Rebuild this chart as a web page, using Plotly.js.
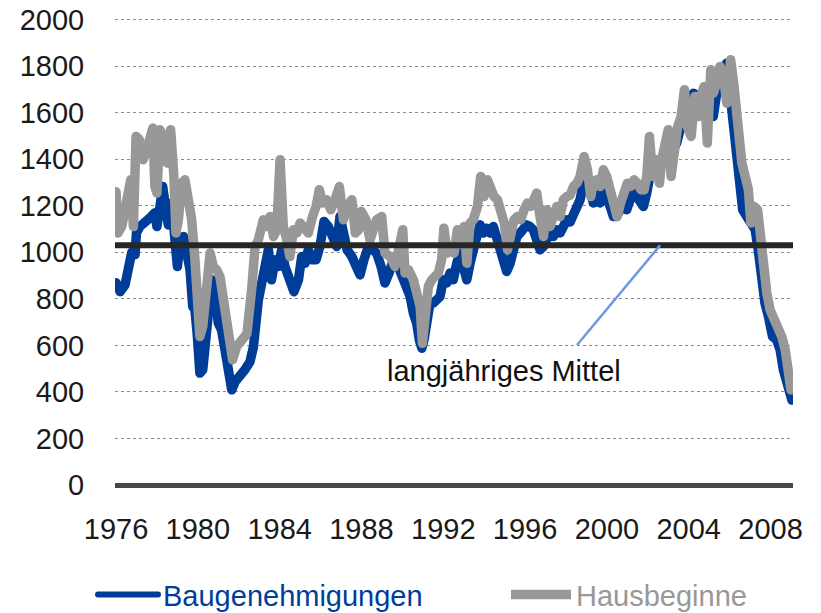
<!DOCTYPE html>
<html>
<head>
<meta charset="utf-8">
<script src="https://cdn.plot.ly/plotly-3.0.1.min.js"></script>
<style>html,body{margin:0;padding:0;background:#fff;}#chart{width:821px;height:613px;}
#chart .scatterlayer .js-line{stroke-linejoin:round !important;stroke-linecap:round !important;}
#chart .legend .js-line{stroke-width:6px !important;stroke-linecap:round !important;}</style>
</head>
<body>
<div id="chart"></div>
<script>
// Baugenehmigungen (dark blue)
const blueYears = [1976.0,1976.2,1976.44,1976.6,1976.77,1976.93,1977.0,1977.17,1977.42,1977.66,1977.9,1978.0,1978.15,1978.28,1978.44,1978.56,1978.72,1978.88,1979.0,1979.13,1979.3,1979.46,1979.62,1979.75,1979.86,1979.98,1980.1,1980.24,1980.4,1980.56,1980.68,1980.79,1980.89,1981.0,1981.16,1981.33,1981.49,1981.66,1981.82,1982.06,1982.3,1982.55,1982.72,1982.96,1983.12,1983.29,1983.45,1983.6,1983.78,1983.94,1984.1,1984.26,1984.47,1984.7,1984.92,1985.08,1985.24,1985.4,1985.57,1985.78,1985.97,1986.17,1986.38,1986.6,1986.79,1986.95,1987.12,1987.3,1987.53,1987.74,1987.93,1988.12,1988.34,1988.55,1988.74,1988.96,1989.15,1989.35,1989.56,1989.8,1990.05,1990.21,1990.38,1990.54,1990.7,1990.83,1990.95,1991.06,1991.19,1991.35,1991.51,1991.68,1991.84,1992.0,1992.17,1992.33,1992.49,1992.66,1992.82,1992.98,1993.15,1993.31,1993.47,1993.64,1993.8,1993.96,1994.12,1994.29,1994.45,1994.61,1994.78,1994.94,1995.1,1995.27,1995.43,1995.6,1995.76,1995.92,1996.08,1996.24,1996.4,1996.57,1996.73,1996.9,1997.06,1997.22,1997.38,1997.55,1997.71,1997.87,1998.04,1998.2,1998.37,1998.53,1998.69,1998.85,1999.0,1999.18,1999.34,1999.5,1999.67,1999.83,1999.99,2000.16,2000.32,2000.48,2000.64,2000.8,2000.97,2001.13,2001.3,2001.46,2001.62,2001.79,2001.95,2002.1,2002.27,2002.44,2002.6,2002.76,2002.93,2003.09,2003.25,2003.41,2003.58,2003.74,2003.9,2004.07,2004.23,2004.45,2004.72,2005.0,2005.2,2005.37,2005.62,2005.86,2006.03,2006.2,2006.35,2006.48,2006.64,2006.84,2007.08,2007.25,2007.4,2007.57,2007.73,2007.9,2008.1,2008.3,2008.47,2008.63,2008.8,2008.96,2009.05];
const blueValues = [869,831,860,912,1000,990,1084,1111,1126,1148,1170,1111,1197,1283,1183,1118,1212,982,939,1040,1068,997,925,767,753,638,481,495,624,810,882,810,782,696,667,581,509,409,444,466,495,530,595,796,853,925,1011,882,968,939,1011,939,882,831,882,982,953,1011,968,968,1025,1133,1111,1068,1025,1154,1083,1011,982,939,903,968,1025,1011,997,939,868,911,968,939,880,839,810,738,695,624,588,624,738,782,782,796,810,882,868,911,882,953,997,939,882,953,1025,1068,1118,1083,1104,1083,1111,1068,1011,953,918,953,1025,1068,1083,1097,1118,1111,1097,1054,1011,1025,1054,1083,1068,1097,1083,1111,1140,1130,1169,1197,1226,1297,1312,1269,1212,1269,1212,1269,1240,1197,1154,1154,1183,1197,1183,1240,1269,1240,1212,1197,1255,1326,1341,1355,1384,1398,1441,1455,1441,1470,1527,1584,1613,1641,1684,1670,1670,1640,1584,1684,1785,1813,1655,1512,1398,1297,1183,1154,1126,1097,1011,882,782,724,638,624,581,495,437,373,365];

// Hausbeginne (grey)
const greyYears = [1976.0,1976.1,1976.28,1976.44,1976.6,1976.72,1976.85,1976.98,1977.14,1977.33,1977.5,1977.63,1977.8,1977.9,1978.0,1978.15,1978.3,1978.5,1978.67,1978.83,1978.93,1979.05,1979.21,1979.37,1979.54,1979.7,1979.86,1979.98,1980.1,1980.24,1980.43,1980.6,1980.76,1980.92,1981.08,1981.25,1981.41,1981.57,1981.7,1981.9,1982.14,1982.4,1982.63,1982.8,1982.96,1983.2,1983.37,1983.53,1983.7,1983.86,1984.02,1984.18,1984.35,1984.5,1984.67,1984.84,1985.0,1985.2,1985.4,1985.61,1985.78,1985.94,1986.1,1986.3,1986.5,1986.71,1986.92,1987.12,1987.3,1987.53,1987.7,1987.86,1988.0,1988.22,1988.42,1988.58,1988.74,1988.99,1989.15,1989.4,1989.64,1989.85,1990.02,1990.13,1990.3,1990.54,1990.7,1990.87,1990.98,1991.11,1991.27,1991.44,1991.6,1991.76,1991.92,1992.03,1992.2,1992.36,1992.53,1992.69,1992.85,1993.02,1993.15,1993.31,1993.47,1993.67,1993.83,1993.99,1994.16,1994.32,1994.48,1994.65,1994.81,1994.98,1995.14,1995.3,1995.46,1995.62,1995.79,1995.95,1996.11,1996.28,1996.44,1996.57,1996.73,1996.9,1997.06,1997.22,1997.38,1997.55,1997.71,1997.87,1998.04,1998.2,1998.37,1998.53,1998.69,1998.89,1999.05,1999.21,1999.34,1999.5,1999.67,1999.83,1999.99,2000.16,2000.32,2000.5,2000.67,2000.84,2001.0,2001.16,2001.33,2001.5,2001.66,2001.82,2001.95,2002.08,2002.24,2002.4,2002.57,2002.68,2002.84,2003.0,2003.14,2003.3,2003.46,2003.63,2003.79,2003.93,2004.12,2004.3,2004.47,2004.64,2004.75,2004.91,2005.08,2005.2,2005.37,2005.53,2005.7,2005.86,2006.05,2006.2,2006.32,2006.43,2006.6,2006.76,2006.92,2007.04,2007.2,2007.37,2007.5,2007.66,2007.82,2007.98,2008.18,2008.39,2008.55,2008.72,2008.88,2009.0];
const greyValues = [1260,1083,1111,1197,1240,1312,1111,1498,1484,1398,1441,1498,1534,1283,1255,1527,1498,1384,1527,1326,1083,1140,1297,1312,1212,1140,968,839,638,681,925,997,939,925,896,810,695,609,538,595,624,650,839,1025,1054,1140,1111,1154,1068,1097,1398,1111,1054,982,1097,1083,1126,1111,1083,1154,1197,1269,1212,1226,1183,1226,1283,1140,1197,1226,1083,1097,1176,1140,1054,1097,1140,1154,997,982,939,1025,1097,911,925,882,825,767,609,767,853,882,896,911,968,1104,997,1025,997,1097,1083,1111,953,1126,1140,1197,1326,1240,1312,1255,1240,1226,1183,1126,1011,1083,1140,1154,1140,1183,1212,1197,1240,1255,1154,1068,1183,1111,1154,1197,1154,1226,1240,1245,1283,1297,1326,1412,1355,1240,1297,1312,1283,1355,1326,1255,1212,1154,1212,1255,1297,1283,1312,1297,1269,1269,1326,1498,1326,1398,1297,1398,1455,1527,1326,1441,1541,1584,1699,1541,1498,1670,1584,1684,1713,1470,1785,1684,1727,1799,1756,1641,1828,1727,1584,1555,1384,1326,1269,1126,1197,1183,1068,925,825,753,710,681,638,581,495,409];

// long-term average
const meanValue = 1030;
const meanLabel = 'langjähriges Mittel';
const labelPos = {x: 1994.95, y: 490};
const arrowFrom = {x: 1998.54, y: 602};
const arrowTo = {x: 2002.6, y: meanValue};

const yTicks = [0,200,400,600,800,1000,1200,1400,1600,1800,2000];
const xTicks = [1976,1980,1984,1988,1992,1996,2000,2004,2008];

const blueColor = '#003d99';
const greyColor = '#989898';
const font = 'Liberation Sans, Arial, sans-serif';
const fs = 29;

const traces = [
  {x: blueYears, y: blueValues, type: 'scatter', mode: 'lines', legend: 'legend',
   name: '<span style="color:' + blueColor + '">Baugenehmigungen</span>',
   line: {color: blueColor, width: 9.5, shape: 'linear'}},
  {x: greyYears, y: greyValues, type: 'scatter', mode: 'lines', legend: 'legend2',
   name: '<span style="color:' + greyColor + '">Hausbeginne</span>',
   line: {color: greyColor, width: 9.5, shape: 'linear'}}
];

const legendBase = {orientation: 'h', xref: 'container', yref: 'container', y: 0.03,
  xanchor: 'left', yanchor: 'middle', font: {size: fs, family: font},
  itemwidth: 60, bgcolor: 'rgba(0,0,0,0)'};

const layout = {
  width: 821, height: 613,
  margin: {l: 115, r: 28, t: 15.35, b: 121.03, pad: 0},
  paper_bgcolor: '#fff', plot_bgcolor: '#fff',
  font: {family: font, size: fs, color: '#1a1a1a'},
  showlegend: true,
  legend: Object.assign({}, legendBase, {x: 0.1133}),
  legend2: Object.assign({}, legendBase, {x: 0.6163}),
  xaxis: {range: [1975.95, 2009.1], tickmode: 'array', tickvals: xTicks, ticktext: xTicks.map(String),
          showgrid: false, zeroline: false, showline: false, ticks: 'outside', ticklen: 11,
          tickcolor: 'rgba(0,0,0,0)', tickfont: {size: fs, color: '#1a1a1a'}, fixedrange: true},
  yaxis: {range: [-30, 2020], tickmode: 'array', tickvals: yTicks, ticktext: yTicks.map(String),
          showgrid: true, gridcolor: '#8c8c8c', gridwidth: 1, griddash: 'dot',
          zeroline: true, zerolinecolor: '#4a4646', zerolinewidth: 5, showline: false,
          ticks: 'outside', ticklen: 24, tickcolor: 'rgba(0,0,0,0)',
          tickfont: {size: fs, color: '#1a1a1a'}, fixedrange: true},
  shapes: [
    {type: 'line', xref: 'paper', x0: 0, x1: 1, yref: 'y', y0: meanValue, y1: meanValue,
     line: {color: '#262626', width: 6}, layer: 'above'},
    {type: 'line', xref: 'x', yref: 'y', x0: arrowFrom.x, y0: arrowFrom.y, x1: arrowTo.x, y1: arrowTo.y,
     line: {color: '#6d98e6', width: 2.5}, layer: 'above'}
  ],
  annotations: [
    {x: labelPos.x, y: labelPos.y, xref: 'x', yref: 'y', text: meanLabel, showarrow: false,
     font: {size: fs, color: '#111', family: font}, xanchor: 'center', yanchor: 'middle'}
  ]
};

Plotly.newPlot('chart', traces, layout, {displayModeBar: false, staticPlot: true});
</script>
</body>
</html>
